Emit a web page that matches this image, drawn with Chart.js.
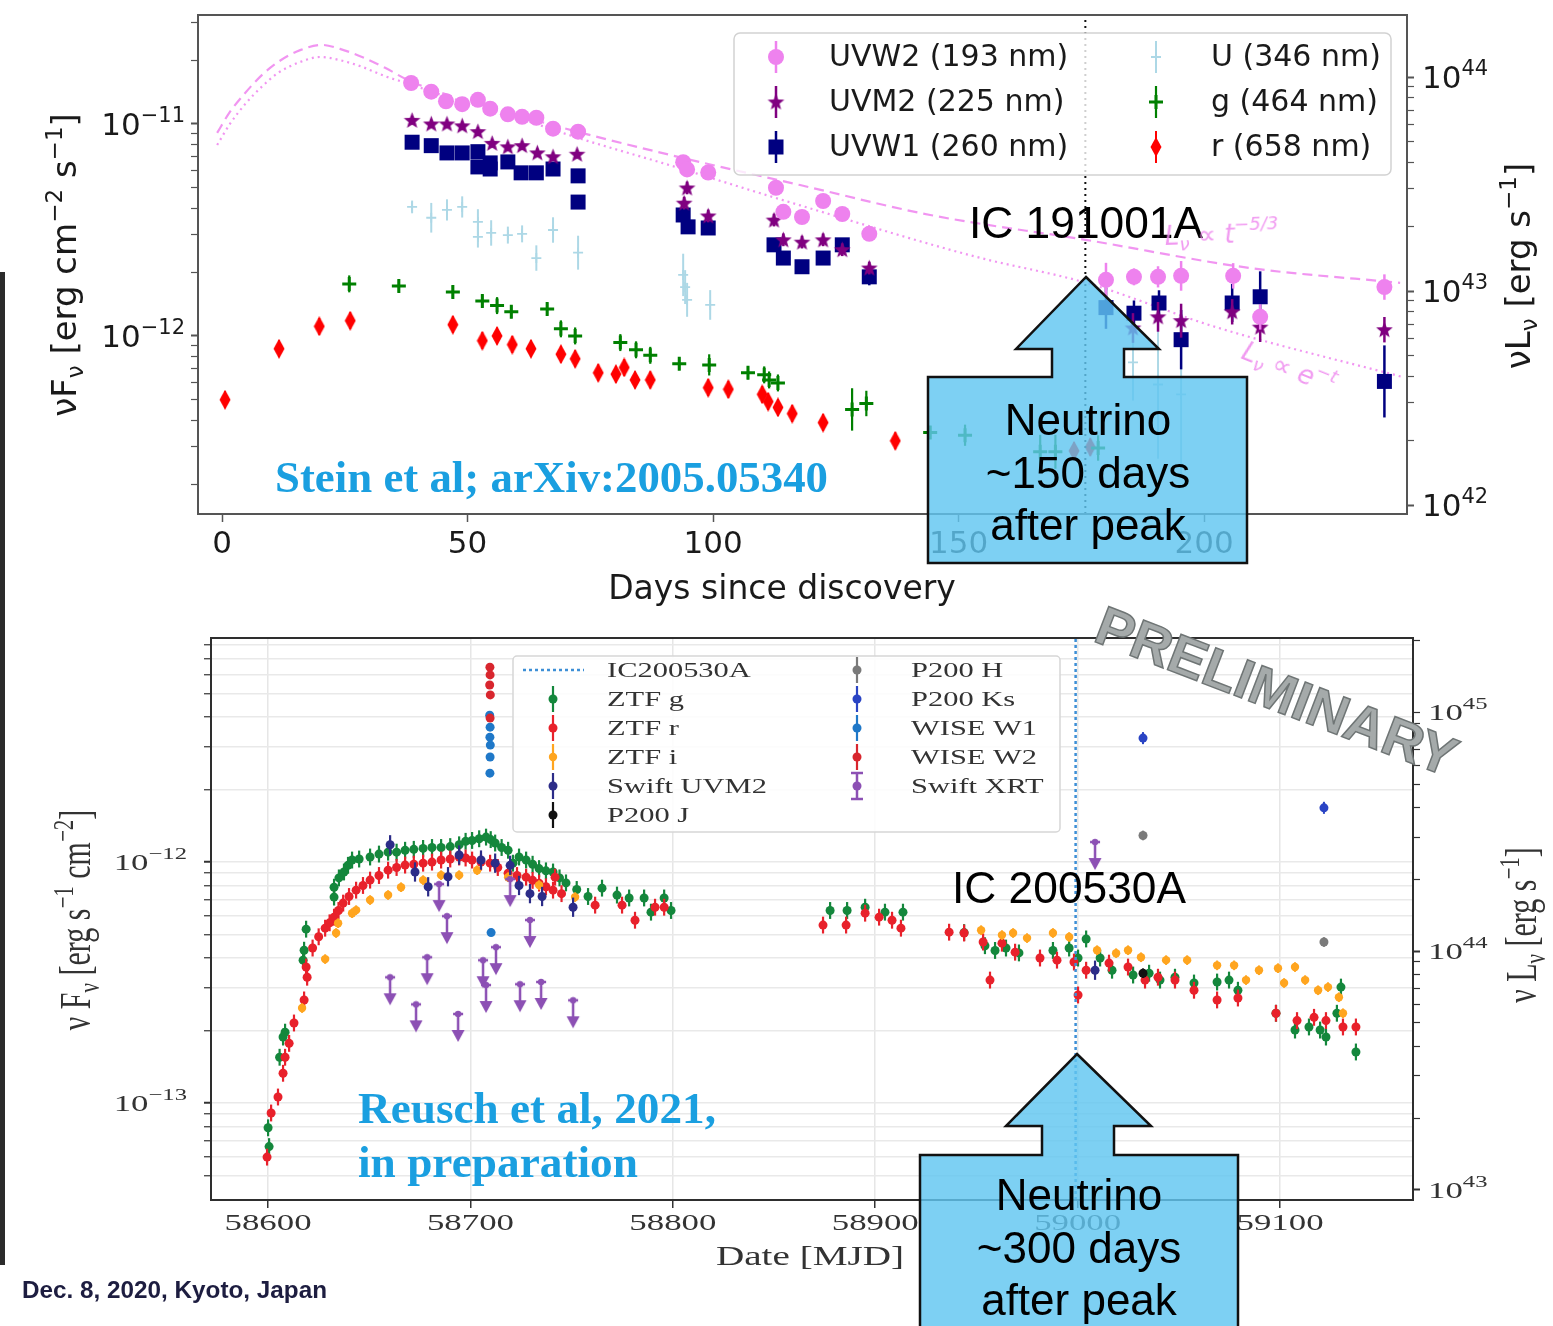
<!DOCTYPE html>
<html>
<head>
<meta charset="utf-8">
<script src="https://cdn.jsdelivr.net/npm/chart.js@4.4.1/dist/chart.umd.min.js"></script>
<style>
html, body { margin: 0; padding: 0; background: #fff; }
body { width: 1553px; height: 1326px; position: relative; overflow: hidden; }
canvas { position: absolute; left: 0; }
#top { top: 0; }
#bottom { top: 615px; }
#bar { position: absolute; left: 0; top: 272px; width: 5px; height: 993px; background: #2b2b2b; }
#ov { position: absolute; left: 0; top: 0; pointer-events: none; }
</style>
</head>
<body>
<div id="bar"></div>
<canvas id="top" width="1553" height="615"></canvas>
<canvas id="bottom" width="1553" height="711"></canvas>
<svg id="ov" width="1553" height="1326" xmlns="http://www.w3.org/2000/svg">
  <polygon points="1086,277 1159,349 1124,349 1124,377 1247,377 1247,563 928,563 928,377 1052,377 1052,349 1016,349"
           fill="rgba(96,198,240,0.82)" stroke="#111" stroke-width="2.5"/>
  <polygon points="1077,1054 1151,1126 1114,1126 1114,1155 1238,1155 1238,1340 920,1340 920,1155 1042,1155 1042,1126 1006,1126"
           fill="rgba(96,198,240,0.82)" stroke="#111" stroke-width="2.5"/>
  <g font-family="'Liberation Sans', Arial, sans-serif" fill="#000" text-anchor="middle" font-size="44">
    <text x="1088" y="435">Neutrino</text>
    <text x="1088" y="488">~150 days</text>
    <text x="1088" y="540">after peak</text>
    <text x="1079" y="1210">Neutrino</text>
    <text x="1079" y="1263">~300 days</text>
    <text x="1079" y="1315">after peak</text>
    <text x="1086" y="238" textLength="234" lengthAdjust="spacingAndGlyphs">IC 191001A</text>
    <text x="1069" y="903" textLength="234" lengthAdjust="spacingAndGlyphs">IC 200530A</text>
  </g>
  <g font-family="'Liberation Serif', 'Times New Roman', serif" font-weight="bold" font-size="45" fill="#1a9fe0">
    <text x="275" y="492" textLength="553" lengthAdjust="spacingAndGlyphs">Stein et al; arXiv:2005.05340</text>
    <text x="358" y="1123" textLength="358" lengthAdjust="spacingAndGlyphs">Reusch et al, 2021,</text>
    <text x="358" y="1177" textLength="280" lengthAdjust="spacingAndGlyphs">in preparation</text>
  </g>
  <g font-family="'DejaVu Sans', sans-serif" font-style="oblique" font-size="26" fill="#ee88ee" opacity="0.85">
    <text transform="translate(1165,245) rotate(-2)">L<tspan font-size="18" dy="6">ν</tspan><tspan dy="-6"> ∝ t</tspan><tspan font-size="18" dy="-12">−5/3</tspan></text>
    <text transform="translate(1240,358) rotate(22)">L<tspan font-size="18" dy="6">ν</tspan><tspan dy="-6"> ∝ e</tspan><tspan font-size="18" dy="-12">−t</tspan></text>
  </g>
  <text transform="translate(1270,709) rotate(21)" text-anchor="middle" font-family="'Liberation Sans', Arial, sans-serif"
        font-weight="bold" font-size="55" fill="#a5aaaa" stroke="#6f7575" stroke-width="1.5"
        textLength="382" lengthAdjust="spacingAndGlyphs">PRELIMINARY</text>
  <text x="22" y="1298" font-family="'Liberation Sans', Arial, sans-serif" font-weight="bold" font-size="23" fill="#1d1d40"
        textLength="305" lengthAdjust="spacingAndGlyphs">Dec. 8, 2020, Kyoto, Japan</text>
</svg>
<script>
// ---------- IC191001A / AT2019dsg (top panel), days since discovery ----------
const UVW2_DAYS = [38.5, 42.6, 45.6, 48.9, 52.1, 54.6, 58.2, 61.1, 64.0, 67.4, 72.5, 93.9, 94.7, 99.0, 112.8, 114.3, 118.1, 122.4, 126.3, 131.8, 180.0, 185.7, 190.6, 195.3, 205.9, 211.4, 236.7];
const UVW2_FLUX = [1.56e-11, 1.42e-11, 1.28e-11, 1.24e-11, 1.30e-11, 1.18e-11, 1.11e-11, 1.08e-11, 1.07e-11, 9.5e-12, 9.2e-12, 6.6e-12, 6.1e-12, 5.9e-12, 5.0e-12, 3.85e-12, 3.64e-12, 4.33e-12, 3.76e-12, 3.03e-12, 1.84e-12, 1.90e-12, 1.90e-12, 1.92e-12, 1.92e-12, 1.23e-12, 1.70e-12];
const UVW2_ERR = [0.02, 0.02, 0.02, 0.02, 0.02, 0.02, 0.02, 0.02, 0.02, 0.02, 0.02, 0.02, 0.02, 0.02, 0.02, 0.02, 0.02, 0.02, 0.02, 0.03, 0.08, 0.04, 0.05, 0.07, 0.06, 0.06, 0.06];

const UVM2_DAYS = [38.7, 42.6, 45.8, 48.9, 52.1, 55.0, 58.2, 61.1, 64.2, 67.4, 72.3, 94.1, 94.7, 99.0, 112.4, 114.3, 118.1, 122.4, 126.3, 131.8, 185.5, 190.6, 195.3, 205.7, 211.4, 236.7];
const UVM2_FLUX = [1.04e-11, 1.0e-11, 1.0e-11, 9.8e-12, 9.2e-12, 8.1e-12, 7.8e-12, 7.9e-12, 7.3e-12, 7.0e-12, 7.2e-12, 4.23e-12, 4.99e-12, 3.68e-12, 3.52e-12, 2.84e-12, 2.77e-12, 2.84e-12, 2.55e-12, 2.09e-12, 1.09e-12, 1.23e-12, 1.18e-12, 1.30e-12, 1.10e-12, 1.07e-12];
const UVM2_ERR = [0.02, 0.02, 0.02, 0.02, 0.02, 0.02, 0.02, 0.02, 0.02, 0.02, 0.02, 0.03, 0.03, 0.03, 0.03, 0.03, 0.03, 0.03, 0.03, 0.03, 0.07, 0.07, 0.08, 0.06, 0.07, 0.06];

const UVW1_DAYS = [38.7, 42.6, 45.8, 48.9, 52.1, 52.1, 54.6, 54.6, 58.2, 60.9, 64.0, 67.4, 72.5, 72.5, 93.9, 94.9, 99.0, 112.4, 114.3, 118.1, 122.4, 126.3, 131.8, 180.0, 185.7, 190.8, 195.3, 205.7, 211.4, 236.7];
const UVW1_FLUX = [8.2e-12, 7.9e-12, 7.3e-12, 7.3e-12, 7.4e-12, 6.27e-12, 6.55e-12, 6.13e-12, 6.62e-12, 5.88e-12, 5.88e-12, 6.13e-12, 5.69e-12, 4.28e-12, 3.72e-12, 3.27e-12, 3.23e-12, 2.69e-12, 2.33e-12, 2.12e-12, 2.33e-12, 2.69e-12, 1.90e-12, 1.36e-12, 1.28e-12, 1.43e-12, 9.6e-13, 1.43e-12, 1.53e-12, 6.1e-13];
const UVW1_ERR = [0.02, 0.02, 0.02, 0.02, 0.02, 0.02, 0.02, 0.02, 0.02, 0.02, 0.02, 0.02, 0.02, 0.02, 0.03, 0.03, 0.03, 0.03, 0.03, 0.03, 0.03, 0.03, 0.04, 0.10, 0.06, 0.06, 0.14, 0.09, 0.12, 0.17];

const U_DAYS = [38.7, 42.6, 45.8, 48.9, 52.1, 52.1, 54.8, 58.2, 61.1, 64.0, 67.4, 72.5, 93.9, 94.3, 94.7, 99.4, 185.5, 190.6, 195.3];
const U_FLUX = [4.06e-12, 3.61e-12, 3.93e-12, 4.06e-12, 3.45e-12, 2.93e-12, 3.06e-12, 2.99e-12, 3.03e-12, 2.33e-12, 3.16e-12, 2.47e-12, 1.94e-12, 1.70e-12, 1.48e-12, 1.40e-12, 7.5e-13, 5.9e-13, 5.3e-13];
const U_ERR = [0.03, 0.07, 0.05, 0.05, 0.06, 0.05, 0.06, 0.04, 0.04, 0.06, 0.06, 0.08, 0.10, 0.08, 0.08, 0.07, 0.18, 0.35, 0.38];

const G_DAYS = [25.9, 36.0, 47.0, 53.0, 56.0, 58.9, 66.2, 69.0, 71.9, 81.1, 84.3, 87.2, 93.1, 99.2, 107.1, 110.4, 111.4, 113.2, 128.3, 131.2, 144.2, 151.3, 166.6, 169.7, 178.4];
const G_FLUX = [1.76e-12, 1.72e-12, 1.61e-12, 1.46e-12, 1.39e-12, 1.30e-12, 1.34e-12, 1.08e-12, 1.0e-12, 9.3e-13, 8.6e-13, 8.1e-13, 7.4e-13, 7.3e-13, 6.7e-13, 6.55e-13, 6.2e-13, 6.0e-13, 4.5e-13, 4.8e-13, 3.5e-13, 3.4e-13, 2.84e-13, 2.84e-13, 2.96e-13];
const G_ERR = [0.04, 0.03, 0.03, 0.03, 0.04, 0.03, 0.03, 0.04, 0.04, 0.04, 0.04, 0.04, 0.03, 0.05, 0.03, 0.04, 0.04, 0.04, 0.10, 0.06, 0.03, 0.05, 0.08, 0.08, 0.06];

const R_DAYS = [0.6, 11.6, 19.8, 26.1, 47.0, 53.0, 56.0, 59.1, 62.9, 69.0, 71.9, 76.6, 80.2, 81.9, 84.1, 87.2, 99.0, 103.1, 110.0, 111.2, 113.2, 116.1, 122.4, 137.1, 173.5, 176.8];
const R_FLUX = [5.0e-13, 8.7e-13, 1.11e-12, 1.18e-12, 1.13e-12, 9.5e-13, 1.0e-12, 9.1e-13, 8.7e-13, 8.2e-13, 7.8e-13, 6.7e-13, 6.6e-13, 7.1e-13, 6.2e-13, 6.2e-13, 5.7e-13, 5.6e-13, 5.3e-13, 4.9e-13, 4.6e-13, 4.3e-13, 3.9e-13, 3.2e-13, 2.87e-13, 2.99e-13];
const R_ERR = 0.04;

// model curves
const POW_DAYS = [-1.0, 1.6, 4.7, 8.1, 11.4, 15.9, 20.4, 24.0, 28.5, 33.2, 37.9, 46.4, 56.6, 72.5, 93.7, 117.7, 144.2, 175.8, 209.4, 239.9];
const POW_FLUX = [9.07e-12, 1.14e-11, 1.40e-11, 1.70e-11, 1.96e-11, 2.23e-11, 2.36e-11, 2.26e-11, 2.07e-11, 1.84e-11, 1.61e-11, 1.36e-11, 1.16e-11, 9.17e-12, 6.92e-12, 5.15e-12, 3.72e-12, 2.84e-12, 2.09e-12, 1.78e-12];
const EXP_DAYS = [-1.0, 1.6, 4.7, 8.1, 11.4, 15.9, 20.0, 24.0, 28.5, 33.2, 37.9, 46.4, 56.6, 72.5, 89.6, 116.1, 153.6, 176.0, 202.4, 240.3];
const EXP_FLUX = [7.96e-12, 1.0e-11, 1.24e-11, 1.50e-11, 1.74e-11, 1.96e-11, 2.07e-11, 2.0e-11, 1.86e-11, 1.68e-11, 1.55e-11, 1.33e-11, 1.14e-11, 8.59e-12, 6.55e-12, 4.24e-12, 2.36e-12, 1.78e-12, 1.10e-12, 6.41e-13];

const NU_DAY = 175.8;
const TOP_DAY_TICKS = [0, 50, 100, 150, 200];
const TOP_DAY_RANGE = [-4.9, 241.3];
const TOP_FLUX_RANGE = [1.445e-13, 3.266e-11];
const TOP_LUM_RANGE = [9.08e41, 1.95e44];

// ---------- IC200530A / AT2019fdr (bottom panel), MJD ----------
const ZTF_G_MJD = [58600.0, 58600.5, 58605.7, 58607.4, 58608.4, 58617.3, 58617.8, 58618.8, 58632.6, 58632.6, 58635.0, 58637.5, 58639.5, 58641.5, 58645.0, 58650.4, 58654.8, 58659.3, 58663.5, 58667.7, 58672.0, 58676.6, 58681.0, 58685.5, 58690.0, 58694.4, 58697.6, 58700.8, 58704.3, 58707.7, 58710.0, 58712.2, 58715.4, 58718.6, 58721.0, 58724.0, 58727.5, 58730.7, 58733.9, 58737.3, 58740.8, 58744.0, 58747.2, 58752.5, 58758.1, 58765.0, 58772.4, 58778.4, 58785.8, 58789.2, 58795.7, 58799.1, 58877.7, 58886.1, 58895.0, 58904.8, 58913.7, 58943.9, 58954.2, 58959.2, 58964.6, 58971.0, 58987.8, 58995.8, 59000.2, 59004.2, 59011.1, 59017.0, 59027.4, 59035.3, 59040.7, 59048.1, 59057.5, 59068.9, 59074.8, 59079.2, 59098.0, 59107.4, 59114.3, 59119.8, 59122.7, 59128.1, 59130.1, 59137.5];
const ZTF_G_FLUX = [7.9e-14, 6.6e-14, 1.55e-13, 1.88e-13, 1.97e-13, 3.92e-13, 4.31e-13, 5.27e-13, 7.16e-13, 7.87e-13, 8.6e-13, 9.1e-13, 9.7e-13, 1.02e-12, 1.03e-12, 1.05e-12, 1.08e-12, 1.10e-12, 1.10e-12, 1.12e-12, 1.13e-12, 1.14e-12, 1.15e-12, 1.15e-12, 1.16e-12, 1.18e-12, 1.22e-12, 1.23e-12, 1.25e-12, 1.27e-12, 1.24e-12, 1.20e-12, 1.15e-12, 1.12e-12, 9.9e-13, 1.05e-12, 1.02e-12, 9.8e-13, 9.4e-13, 9.2e-13, 9.1e-13, 8.6e-13, 8.2e-13, 7.7e-13, 7.2e-13, 7.8e-13, 7.3e-13, 7.1e-13, 7.1e-13, 6.2e-13, 7.1e-13, 6.3e-13, 6.3e-13, 6.3e-13, 6.5e-13, 6.2e-13, 6.2e-13, 5.1e-13, 4.5e-13, 4.3e-13, 4.4e-13, 4.2e-13, 4.3e-13, 4.4e-13, 4.0e-13, 4.8e-13, 4.0e-13, 3.56e-13, 3.4e-13, 3.46e-13, 3.24e-13, 3.33e-13, 3.15e-13, 3.18e-13, 3.24e-13, 2.94e-13, 2.36e-13, 2.01e-13, 2.07e-13, 2.01e-13, 1.88e-13, 2.36e-13, 3.03e-13, 1.63e-13];

const ZTF_R_MJD = [58599.5, 58601.5, 58604.9, 58607.4, 58608.4, 58610.4, 58612.8, 58617.8, 58618.8, 58619.3, 58622.0, 58625.0, 58628.2, 58630.4, 58632.6, 58634.8, 58637.1, 58640.0, 58643.5, 58646.9, 58650.4, 58654.8, 58659.3, 58663.5, 58667.7, 58672.0, 58676.6, 58681.0, 58685.5, 58690.0, 58694.4, 58697.6, 58700.8, 58705.2, 58709.7, 58713.5, 58718.6, 58723.0, 58727.5, 58730.7, 58733.9, 58737.3, 58740.8, 58741.8, 58745.0, 58761.6, 58774.9, 58781.3, 58791.2, 58795.7, 58874.2, 58885.6, 58895.0, 58901.9, 58908.3, 58912.7, 58936.5, 58943.9, 58953.3, 58956.7, 58962.6, 58969.1, 58981.4, 58989.8, 58998.2, 59000.2, 59004.2, 59015.5, 59024.9, 59033.3, 59039.7, 59048.1, 59057.5, 59068.9, 59079.2, 59098.0, 59108.4, 59116.8, 59122.7, 59131.1, 59137.5];
const ZTF_R_FLUX = [5.97e-14, 9.1e-14, 1.06e-13, 1.33e-13, 1.55e-13, 1.77e-13, 2.15e-13, 2.68e-13, 3.67e-13, 3.33e-13, 4.4e-13, 4.9e-13, 5.32e-13, 5.6e-13, 5.91e-13, 6.3e-13, 6.76e-13, 7.2e-13, 7.65e-13, 8.0e-13, 8.42e-13, 8.8e-13, 9.26e-13, 9.5e-13, 9.72e-13, 9.8e-13, 9.9e-13, 1.0e-12, 1.02e-12, 1.03e-12, 1.05e-12, 1.04e-12, 1.02e-12, 1.0e-12, 9.9e-13, 9.5e-13, 9.0e-13, 8.8e-13, 8.66e-13, 8.4e-13, 8.18e-13, 7.9e-13, 7.65e-13, 8.66e-13, 7.4e-13, 6.63e-13, 6.63e-13, 5.74e-13, 6.5e-13, 6.5e-13, 5.48e-13, 5.48e-13, 6.14e-13, 5.91e-13, 5.74e-13, 5.32e-13, 5.12e-13, 5.08e-13, 4.66e-13, 3.24e-13, 4.61e-13, 4.23e-13, 4.0e-13, 3.92e-13, 3.85e-13, 2.81e-13, 3.56e-13, 3.81e-13, 3.67e-13, 3.24e-13, 3.33e-13, 3.24e-13, 2.94e-13, 2.68e-13, 2.73e-13, 2.36e-13, 2.2e-13, 2.27e-13, 2.2e-13, 2.07e-13, 2.07e-13];

const ZTF_I_MJD = [58616.8, 58628.2, 58633.6, 58634.6, 58641.5, 58643.5, 58650.4, 58659.3, 58665.7, 58676.6, 58685.5, 58694.4, 58703.3, 58718.6, 58733.9, 58751.7, 58952.3, 58962.6, 58968.1, 58975.0, 58987.8, 58995.8, 59009.6, 59019.0, 59024.9, 59031.3, 59043.7, 59054.1, 59068.9, 59077.3, 59083.2, 59089.6, 59099.0, 59102.0, 59107.4, 59112.4, 59118.8, 59123.7, 59129.1, 59131.1];
const ZTF_I_FLUX = [2.48e-13, 3.96e-13, 5.08e-13, 5.58e-13, 6.14e-13, 6.32e-13, 6.96e-13, 7.3e-13, 7.87e-13, 8.42e-13, 8.83e-13, 8.83e-13, 9.26e-13, 8.66e-13, 8.03e-13, 7.16e-13, 5.22e-13, 4.98e-13, 5.08e-13, 4.84e-13, 5.08e-13, 4.89e-13, 4.31e-13, 4.19e-13, 4.31e-13, 4.03e-13, 3.92e-13, 3.92e-13, 3.73e-13, 3.73e-13, 3.24e-13, 3.56e-13, 3.63e-13, 3.15e-13, 3.67e-13, 3.24e-13, 2.94e-13, 3.03e-13, 2.75e-13, 2.36e-13];

const UVM2_MJD = [58660.3, 58672.6, 58679.1, 58688.9, 58694.4, 58705.2, 58712.2, 58719.6, 58724.0, 58729.4, 58735.4, 58750.7, 59008.6];
const UVM2_FLUX_B = [1.18e-12, 9.1e-13, 7.9e-13, 8.7e-13, 1.07e-12, 1.02e-12, 9.9e-13, 9.7e-13, 8.0e-13, 7.4e-13, 7.2e-13, 6.5e-13, 3.56e-13];

const P200_J_MJD = [59032.3];
const P200_J_FLUX = [3.46e-13];
const P200_H_MJD = [59032.3, 59121.7];
const P200_H_FLUX = [1.29e-12, 4.66e-13];
const P200_KS_MJD = [59032.3, 59121.7];
const P200_KS_FLUX = [3.27e-12, 1.68e-12];

const WISE_W1_MJD = [58709.5, 58709.7, 58709.6, 58709.8, 58709.7, 58709.6, 58710.2];
const WISE_W1_FLUX = [4.07e-12, 3.63e-12, 3.30e-12, 3.06e-12, 2.73e-12, 2.34e-12, 5.1e-13];
const WISE_W2_MJD = [58709.6, 58709.7, 58709.5, 58709.8, 58709.7];
const WISE_W2_FLUX = [6.44e-12, 5.98e-12, 5.43e-12, 4.94e-12, 3.96e-12];

const XRT_MJD = [58660.3, 58673.1, 58678.6, 58684.5, 58688.4, 58693.9, 58706.2, 58707.7, 58712.6, 58719.6, 58724.5, 58729.4, 58734.9, 58750.7, 59008.6];
const XRT_UL = [2.94e-13, 2.27e-13, 3.56e-13, 7.16e-13, 5.27e-13, 2.07e-13, 3.46e-13, 2.73e-13, 3.92e-13, 7.51e-13, 2.75e-13, 5.08e-13, 2.81e-13, 2.36e-13, 1.07e-12];

const NU_MJD = 58999;
const BOT_MJD_TICKS = [58600, 58700, 58800, 58900, 59000, 59100];
const BOT_MJD_RANGE = [58571.8, 59165.7];
const BOT_FLUX_RANGE = [3.963e-14, 8.511e-12];
const BOT_LUM_RANGE = [9.08e42, 2.042e45];

// ---------- helpers ----------
const SANS = '"DejaVu Sans", "Bitstream Vera Sans", sans-serif';
const SERIF = '"Liberation Serif", "Times New Roman", serif';
const SX = 1.45; // lower figure is horizontally stretched on the slide

function pts(xs, ys) { return xs.map((x, i) => ({ x: x, y: ys[i] })); }

function makeMarker(w, h, draw) {
    var c = document.createElement('canvas');
    c.width = w; c.height = h;
    draw(c.getContext('2d'), w, h);
    return c;
}

var starMarker = makeMarker(19, 19, function (g) {
    g.fillStyle = '#800080';
    g.beginPath();
    for (var i = 0; i < 10; i++) {
        var r = i % 2 ? 3.7 : 8.8, a = -Math.PI / 2 + i * Math.PI / 5;
        g.lineTo(9.5 + r * Math.cos(a), 10 + r * Math.sin(a));
    }
    g.closePath(); g.fill();
});
var diamondMarker = makeMarker(12, 20, function (g) {
    g.fillStyle = '#ff0000';
    g.beginPath(); g.moveTo(6, 0); g.lineTo(11.5, 10); g.lineTo(6, 20); g.lineTo(0.5, 10); g.closePath(); g.fill();
});
var ulMarker = makeMarker(16, 34, function (g) {
    g.strokeStyle = g.fillStyle = '#8c50b4';
    g.lineWidth = 2.5;
    g.beginPath(); g.moveTo(3, 4); g.lineTo(13, 4); g.moveTo(8, 4); g.lineTo(8, 22); g.stroke();
    g.beginPath(); g.moveTo(1.5, 20); g.lineTo(14.5, 20); g.lineTo(8, 32); g.closePath(); g.fill();
    g.beginPath(); g.arc(8, 4, 3.2, 0, 2 * Math.PI); g.fill();
});

function keepIntegerMantissa(scale) {
    scale.ticks = scale.ticks.filter(function (t) {
        var m = t.value / Math.pow(10, Math.floor(Math.log10(t.value) + 1e-9));
        return Math.abs(m - Math.round(m)) < 1e-6;
    });
}
function fixedTicks(values) {
    return function (scale) {
        scale.ticks = values.map(function (v) { return { value: v }; });
    };
}

function drawRich(ctx, segs, x, y, o) {
    ctx.save();
    ctx.translate(x, y);
    if (o.sx) ctx.scale(o.sx, 1);
    if (o.rot) ctx.rotate(o.rot);
    ctx.textAlign = 'left';
    ctx.textBaseline = 'alphabetic';
    var w = 0;
    segs.forEach(function (s) {
        ctx.font = s.size + 'px ' + o.family;
        s.w = ctx.measureText(s.t).width;
        w += s.w;
    });
    var cx = o.align === 'right' ? -w : (o.align === 'center' ? -w / 2 : 0);
    segs.forEach(function (s) {
        ctx.font = s.size + 'px ' + o.family;
        ctx.fillText(s.t, cx, (s.dy || 0) + (o.vshift || 0));
        cx += s.w;
    });
    ctx.restore();
}

function powLabels(ctx, scale, align, x, o) {
    scale.ticks.forEach(function (t) {
        var e = Math.log10(t.value);
        if (Math.abs(e - Math.round(e)) > 1e-6) return;
        var n = Math.round(e);
        var exp = (n < 0 ? '\u2212' : '') + Math.abs(n);
        var y = scale.getPixelForValue(t.value);
        drawRich(ctx, [{ t: '10', size: o.size }, { t: exp, size: o.sup, dy: -o.rise }], x, y + o.base,
            { family: o.family, align: align, sx: o.sx });
    });
}

function drawMarker(ctx, ds, x, y) {
    var st = ds.pointStyle, r = ds.pointRadius;
    ctx.save();
    ctx.fillStyle = ds.pointBackgroundColor;
    ctx.strokeStyle = ds.pointBorderColor;
    ctx.lineWidth = ds.pointBorderWidth || 1;
    if (st instanceof HTMLCanvasElement) {
        ctx.drawImage(st, x - st.width / 2, y - st.height / 2);
    } else if (st === 'circle') {
        ctx.beginPath(); ctx.arc(x, y, r, 0, 2 * Math.PI); ctx.fill();
    } else if (st === 'rect') {
        var s = r * Math.SQRT1_2;
        ctx.fillRect(x - s, y - s, 2 * s, 2 * s);
    } else if (st === 'cross') {
        ctx.beginPath(); ctx.moveTo(x - r, y); ctx.lineTo(x + r, y); ctx.moveTo(x, y - r); ctx.lineTo(x, y + r); ctx.stroke();
    }
    ctx.restore();
}

function box(ctx, x, y, w, h, r) {
    ctx.beginPath();
    if (ctx.roundRect) ctx.roundRect(x, y, w, h, r); else ctx.rect(x, y, w, h);
}

// vertical error bars, drawn just under each dataset's markers
var errorBars = {
    id: 'errorBars',
    beforeDatasetDraw: function (chart, args) {
        var ds = chart.data.datasets[args.index];
        if (ds.errs === undefined) return;
        var meta = args.meta, ys = chart.scales[meta.yAxisID], a = chart.chartArea, ctx = chart.ctx;
        ctx.save();
        ctx.beginPath(); ctx.rect(a.left, a.top, a.right - a.left, a.bottom - a.top); ctx.clip();
        ctx.strokeStyle = ds.errColor;
        ctx.lineWidth = ds.errWidth;
        ds.data.forEach(function (p, i) {
            var e = Array.isArray(ds.errs) ? ds.errs[i] : ds.errs;
            var el = meta.data[i];
            if (!e || !el) return;
            var f = Math.pow(10, e);
            ctx.beginPath();
            ctx.moveTo(el.x, ys.getPixelForValue(p.y * f));
            ctx.lineTo(el.x, ys.getPixelForValue(p.y / f));
            ctx.stroke();
        });
        ctx.restore();
    }
};

function pointSet(label, data, errs, style, radius, color, extra) {
    var d = {
        label: label, data: data, errs: errs,
        pointStyle: style, pointRadius: radius, pointHoverRadius: radius,
        pointBackgroundColor: color, pointBorderColor: color, pointBorderWidth: 0,
        errColor: color, errWidth: 2, showLine: false
    };
    for (var k in extra) d[k] = extra[k];
    return d;
}

// ---------- top chart ----------
var topSets = [
    pointSet('UVW2 (193 nm)', pts(UVW2_DAYS, UVW2_FLUX), UVW2_ERR, 'circle', 8, '#ee82ee', { order: 1, errWidth: 2.5 }),
    pointSet('UVM2 (225 nm)', pts(UVM2_DAYS, UVM2_FLUX), UVM2_ERR, starMarker, 8, '#800080', { order: 2, errWidth: 2.5 }),
    pointSet('UVW1 (260 nm)', pts(UVW1_DAYS, UVW1_FLUX), UVW1_ERR, 'rect', 10.6, '#000080', { order: 3, errWidth: 2.5 }),
    pointSet('U (346 nm)', pts(U_DAYS, U_FLUX), U_ERR, 'cross', 5, '#add8e6', { order: 4, pointBorderWidth: 1.8, errWidth: 2 }),
    pointSet('g (464 nm)', pts(G_DAYS, G_FLUX), G_ERR, 'cross', 7, '#008000', { order: 5, pointBorderWidth: 3, errWidth: 2.2 }),
    pointSet('r (658 nm)', pts(R_DAYS, R_FLUX), R_ERR, diamondMarker, 7, '#ff0000', { order: 6, errWidth: 2 })
];

var topLines = [
    { type: 'line', data: pts(POW_DAYS, POW_FLUX), borderColor: 'rgba(238,130,238,0.85)', borderWidth: 2.2,
      borderDash: [10, 6], pointRadius: 0, cubicInterpolationMode: 'monotone', showLine: true, fill: false, order: 10 },
    { type: 'line', data: pts(EXP_DAYS, EXP_FLUX), borderColor: 'rgba(238,130,238,0.85)', borderWidth: 2.2,
      borderDash: [2, 4], pointRadius: 0, cubicInterpolationMode: 'monotone', showLine: true, fill: false, order: 11 },
    { type: 'line', data: [{ x: NU_DAY, y: TOP_FLUX_RANGE[0] }, { x: NU_DAY, y: TOP_FLUX_RANGE[1] }], borderColor: '#111',
      borderWidth: 2, borderDash: [2, 4], pointRadius: 0, showLine: true, fill: false, order: 0 }
];

var topDecor = {
    id: 'topDecor',
    afterDraw: function (chart) {
        var ctx = chart.ctx, a = chart.chartArea;
        ctx.save();
        ctx.strokeStyle = '#555'; ctx.lineWidth = 2;
        ctx.strokeRect(a.left, a.top, a.right - a.left, a.bottom - a.top);
        ctx.fillStyle = '#1a1a1a';
        powLabels(ctx, chart.scales.y, 'right', a.left - 13, { family: SANS, size: 31, sup: 21, rise: 13, base: 11 });
        powLabels(ctx, chart.scales.y2, 'left', a.right + 15, { family: SANS, size: 31, sup: 21, rise: 13, base: 11 });
        drawRich(ctx, [{ t: 'νF', size: 34 }, { t: 'ν', size: 23, dy: 7 }, { t: ' [erg cm', size: 34 }, { t: '\u22122', size: 23, dy: -14 },
            { t: ' s', size: 34 }, { t: '\u22121', size: 23, dy: -14 }, { t: ']', size: 34 }],
            64, 265, { family: SANS, align: 'center', rot: -Math.PI / 2, vshift: 12 });
        drawRich(ctx, [{ t: 'νL', size: 34 }, { t: 'ν', size: 23, dy: 7 }, { t: ' [erg s', size: 34 }, { t: '\u22121', size: 23, dy: -14 },
            { t: ']', size: 34 }],
            1518, 266, { family: SANS, align: 'center', rot: -Math.PI / 2, vshift: 12 });
        drawRich(ctx, [{ t: 'Days since discovery', size: 33 }], 782, 599, { family: SANS, align: 'center' });

        // legend
        box(ctx, 734, 33, 657, 142, 6);
        ctx.fillStyle = 'rgba(255,255,255,0.8)'; ctx.fill();
        ctx.strokeStyle = '#d2d2d2'; ctx.lineWidth = 1.5; ctx.stroke();
        ctx.font = '30px ' + SANS; ctx.textBaseline = 'middle'; ctx.textAlign = 'left';
        topSets.forEach(function (ds, i) {
            var col = Math.floor(i / 3), row = i % 3;
            var mx = col ? 1156 : 776, tx = col ? 1211 : 829, y = 57 + row * 45;
            ctx.strokeStyle = ds.errColor; ctx.lineWidth = ds.errWidth;
            ctx.beginPath(); ctx.moveTo(mx, y - 16); ctx.lineTo(mx, y + 16); ctx.stroke();
            drawMarker(ctx, ds, mx, y);
            ctx.fillStyle = '#1a1a1a';
            ctx.fillText(ds.label, tx, y + 1);
        });
        ctx.restore();
    }
};

new Chart(document.getElementById('top'), {
    type: 'scatter',
    data: { datasets: topSets.concat(topLines) },
    options: {
        responsive: false, animation: false, devicePixelRatio: 1, events: [],
        layout: { padding: { top: 15, left: 0, right: 0, bottom: 0 } },
        plugins: { legend: { display: false }, tooltip: { enabled: false } },
        scales: {
            x: {
                type: 'linear', bounds: 'data', min: TOP_DAY_RANGE[0], max: TOP_DAY_RANGE[1],
                afterBuildTicks: fixedTicks(TOP_DAY_TICKS),
                ticks: { maxRotation: 0, autoSkip: false, padding: 4, color: '#1a1a1a',
                         font: { family: SANS, size: 31 } },
                grid: { drawOnChartArea: false, tickLength: 8, tickColor: '#555', tickWidth: 1.5 },
                border: { color: '#555', width: 2 },
                afterFit: function (s) { s.height = 101; }
            },
            y: {
                type: 'logarithmic', position: 'left', bounds: 'data', min: TOP_FLUX_RANGE[0], max: TOP_FLUX_RANGE[1],
                ticks: { display: false },
                afterBuildTicks: keepIntegerMantissa,
                grid: { drawOnChartArea: false, tickLength: 7, tickColor: '#555',
                        tickWidth: function (c) { return c.tick && c.tick.major ? 2 : 1.2; } },
                border: { color: '#555', width: 2 },
                afterFit: function (s) { s.width = 198; }
            },
            y2: {
                type: 'logarithmic', position: 'right', bounds: 'data', min: TOP_LUM_RANGE[0], max: TOP_LUM_RANGE[1],
                ticks: { display: false },
                afterBuildTicks: keepIntegerMantissa,
                grid: { drawOnChartArea: false, tickLength: 7, tickColor: '#555',
                        tickWidth: function (c) { return c.tick && c.tick.major ? 2 : 1.2; } },
                border: { color: '#555', width: 2 },
                afterFit: function (s) { s.width = 146; }
            }
        }
    },
    plugins: [errorBars, topDecor]
});

// ---------- bottom chart ----------
var bottomSets = [
    pointSet('ZTF g', pts(ZTF_G_MJD, ZTF_G_FLUX), 0.035, 'circle', 4.5, '#14873c', { order: 10, errWidth: 2.2 }),
    pointSet('ZTF r', pts(ZTF_R_MJD, ZTF_R_FLUX), 0.035, 'circle', 4.5, '#e8212b', { order: 9, errWidth: 2.2 }),
    pointSet('ZTF i', pts(ZTF_I_MJD, ZTF_I_FLUX), 0.02, 'circle', 4.2, '#ffa51f', { order: 8, errWidth: 2 }),
    pointSet('Swift UVM2', pts(UVM2_MJD, UVM2_FLUX_B), 0.04, 'circle', 4.5, '#2c2c88', { order: 7, errWidth: 2.2 }),
    pointSet('P200 J', pts(P200_J_MJD, P200_J_FLUX), 0.02, 'circle', 4.5, '#111111', { order: 6 }),
    pointSet('P200 H', pts(P200_H_MJD, P200_H_FLUX), 0.02, 'circle', 4.5, '#7a7a7a', { order: 5 }),
    pointSet('P200 Ks', pts(P200_KS_MJD, P200_KS_FLUX), 0.025, 'circle', 4.5, '#2a44c4', { order: 4 }),
    pointSet('WISE W1', pts(WISE_W1_MJD, WISE_W1_FLUX), 0.015, 'circle', 4.5, '#1f78c8', { order: 3 }),
    pointSet('WISE W2', pts(WISE_W2_MJD, WISE_W2_FLUX), 0.015, 'circle', 4.5, '#d8262e', { order: 2 }),
    pointSet('Swift XRT', pts(XRT_MJD, XRT_UL), undefined, ulMarker, 8, '#8c50b4', { order: 1 })
];
var nuLine = { type: 'line', label: 'IC200530A', data: [{ x: NU_MJD, y: BOT_FLUX_RANGE[0] }, { x: NU_MJD, y: BOT_FLUX_RANGE[1] }],
    borderColor: '#3d8fd6', borderWidth: 2.5, borderDash: [3, 3], pointRadius: 0, showLine: true, fill: false, order: 0 };

var bottomDecor = {
    id: 'bottomDecor',
    afterDraw: function (chart) {
        var ctx = chart.ctx, a = chart.chartArea;
        ctx.save();
        ctx.strokeStyle = '#2e2e2e'; ctx.lineWidth = 2;
        ctx.strokeRect(a.left, a.top, a.right - a.left, a.bottom - a.top);
        ctx.fillStyle = '#333';
        powLabels(ctx, chart.scales.y, 'right', a.left - 24, { family: SERIF, size: 24, sup: 17, rise: 11, base: 8, sx: SX });
        powLabels(ctx, chart.scales.y2, 'left', a.right + 15, { family: SERIF, size: 24, sup: 17, rise: 11, base: 8, sx: SX });
        var xs = chart.scales.x;
        xs.ticks.forEach(function (t) {
            drawRich(ctx, [{ t: String(t.value), size: 24 }], xs.getPixelForValue(t.value), a.bottom + 30,
                { family: SERIF, align: 'center', sx: SX });
        });
        drawRich(ctx, [{ t: 'Date [MJD]', size: 27 }], 810, a.bottom + 65, { family: SERIF, align: 'center', sx: SX });
        drawRich(ctx, [{ t: 'ν F', size: 30 }, { t: 'ν', size: 21, dy: 6 }, { t: ' [erg s', size: 30 }, { t: '\u22121', size: 21, dy: -12 },
            { t: ' cm', size: 30 }, { t: '\u22122', size: 21, dy: -12 }, { t: ']', size: 30 }],
            77, 305, { family: SERIF, align: 'center', rot: -Math.PI / 2, sx: SX, vshift: 9 });
        drawRich(ctx, [{ t: 'ν L', size: 30 }, { t: 'ν', size: 21, dy: 6 }, { t: ' [erg s', size: 30 }, { t: '\u22121', size: 21, dy: -12 },
            { t: ']', size: 30 }],
            1523, 310, { family: SERIF, align: 'center', rot: -Math.PI / 2, sx: SX, vshift: 9 });

        // legend
        box(ctx, 513, 41, 547, 176, 4);
        ctx.fillStyle = 'rgba(255,255,255,0.85)'; ctx.fill();
        ctx.strokeStyle = '#d6d6d6'; ctx.lineWidth = 1.5; ctx.stroke();
        var items = [nuLine].concat(bottomSets);
        items.forEach(function (ds, i) {
            var col = i < 6 ? 0 : 1, row = i < 6 ? i : i - 6;
            var mx = col ? 857 : 553, tx = col ? 911 : 607, y = 55 + row * 29;
            if (ds === nuLine) {
                ctx.strokeStyle = ds.borderColor; ctx.lineWidth = ds.borderWidth; ctx.setLineDash([3, 3]);
                ctx.beginPath(); ctx.moveTo(523, y); ctx.lineTo(584, y); ctx.stroke(); ctx.setLineDash([]);
            } else if (ds.pointStyle === ulMarker) {
                ctx.strokeStyle = ds.pointBackgroundColor; ctx.lineWidth = 2.5;
                ctx.beginPath(); ctx.moveTo(mx, y - 13); ctx.lineTo(mx, y + 13);
                ctx.moveTo(mx - 6, y - 13); ctx.lineTo(mx + 6, y - 13); ctx.moveTo(mx - 6, y + 13); ctx.lineTo(mx + 6, y + 13); ctx.stroke();
                ctx.fillStyle = ds.pointBackgroundColor; ctx.beginPath(); ctx.arc(mx, y, 4.5, 0, 2 * Math.PI); ctx.fill();
            } else {
                ctx.strokeStyle = ds.errColor; ctx.lineWidth = 2.2;
                ctx.beginPath(); ctx.moveTo(mx, y - 13); ctx.lineTo(mx, y + 13); ctx.stroke();
                drawMarker(ctx, ds, mx, y);
            }
            ctx.fillStyle = '#333';
            drawRich(ctx, [{ t: ds.label, size: 21 }], tx, y + 7, { family: SERIF, align: 'left', sx: SX });
        });
        ctx.restore();
    }
};

new Chart(document.getElementById('bottom'), {
    type: 'scatter',
    data: { datasets: bottomSets.concat([nuLine]) },
    options: {
        responsive: false, animation: false, devicePixelRatio: 1, events: [],
        layout: { padding: { top: 23, left: 0, right: 0, bottom: 0 } },
        plugins: { legend: { display: false }, tooltip: { enabled: false } },
        scales: {
            x: {
                type: 'linear', bounds: 'data', min: BOT_MJD_RANGE[0], max: BOT_MJD_RANGE[1],
                afterBuildTicks: fixedTicks(BOT_MJD_TICKS),
                ticks: { display: false },
                grid: { drawOnChartArea: true, color: '#e6e6e6', lineWidth: 1.5, tickLength: 8, tickColor: '#333', tickWidth: 1.5 },
                border: { color: '#2e2e2e', width: 2 },
                afterFit: function (s) { s.height = 126; }
            },
            y: {
                type: 'logarithmic', position: 'left', bounds: 'data', min: BOT_FLUX_RANGE[0], max: BOT_FLUX_RANGE[1],
                ticks: { display: false },
                afterBuildTicks: keepIntegerMantissa,
                grid: { drawOnChartArea: true, color: '#e9e9e9', lineWidth: 1.5, tickLength: 7, tickColor: '#333',
                        tickWidth: function (c) { return c.tick && c.tick.major ? 2 : 1.2; } },
                border: { color: '#2e2e2e', width: 2 },
                afterFit: function (s) { s.width = 211; }
            },
            y2: {
                type: 'logarithmic', position: 'right', bounds: 'data', min: BOT_LUM_RANGE[0], max: BOT_LUM_RANGE[1],
                ticks: { display: false },
                afterBuildTicks: keepIntegerMantissa,
                grid: { drawOnChartArea: false, tickLength: 7, tickColor: '#333',
                        tickWidth: function (c) { return c.tick && c.tick.major ? 2 : 1.2; } },
                border: { color: '#2e2e2e', width: 2 },
                afterFit: function (s) { s.width = 140; }
            }
        }
    },
    plugins: [errorBars, bottomDecor]
});
</script>
</body>
</html>
